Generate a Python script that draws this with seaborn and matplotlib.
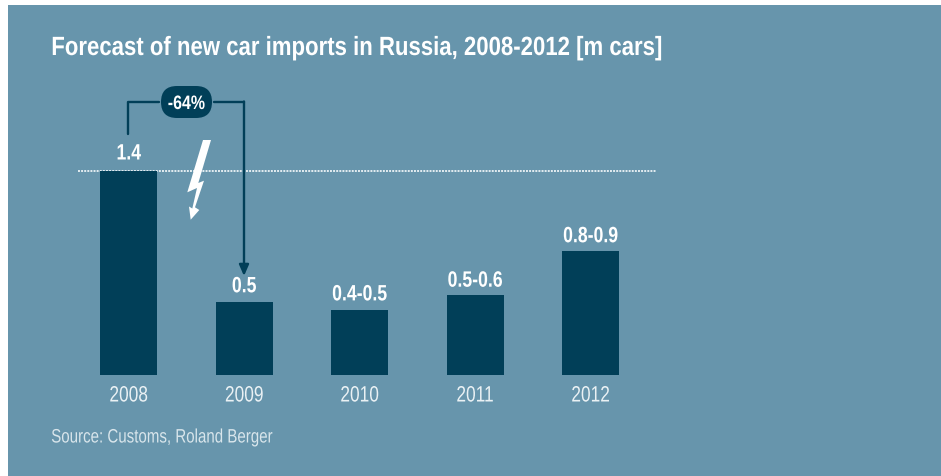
import matplotlib
matplotlib.use("Agg")
import matplotlib.pyplot as plt
from matplotlib.patches import FancyBboxPatch, Polygon, Rectangle
from matplotlib.patheffects import AbstractPathEffect
from matplotlib.transforms import Affine2D
import pandas as pd
import seaborn as sns

years = ["2008", "2009", "2010", "2011", "2012"]
imports_m = [1.4, 0.5, 0.45, 0.55, 0.85]
value_labels = ["1.4", "0.5", "0.4-0.5", "0.5-0.6", "0.8-0.9"]
label_gaps_pt = [8.6, 7.2, 6.6, 6.0, 6.6]

BG = "#6795AC"
DARK = "#013F58"
W, H = 941, 477


class Condensed(AbstractPathEffect):
    """Draws a text narrower, as no condensed face is installed."""

    def __init__(self, factor, anchor="center"):
        super().__init__()
        self.factor = factor
        self.anchor = anchor

    def draw_path(self, renderer, gc, tpath, affine, rgbFace=None):
        box = tpath.get_extents()
        x0 = box.x0 if self.anchor == "left" else (box.x0 + box.x1) / 2
        squeeze = Affine2D().translate(-x0, 0).scale(self.factor, 1).translate(x0, 0)
        renderer.draw_path(gc, tpath, squeeze + affine, rgbFace)


sns.set_theme(style="white")
plt.rcParams["font.family"] = ["Liberation Sans", "DejaVu Sans"]

fig = plt.figure(figsize=(W / 100, H / 100), dpi=100, facecolor="white")
ax = fig.add_axes([0, 0, 1, 1])

df = pd.DataFrame({"year": years, "imports": imports_m})
sns.barplot(data=df, x="year", y="imports", color=DARK, saturation=1, width=0.494,
            linewidth=0, edgecolor="none", ax=ax, zorder=3)

# Full-figure axes: one pixel is a fixed step in both data directions
step, unit = 115.5, 145.4
x_of = lambda px: (px - 128.7) / step
y_of = lambda py: (376 - py) / unit
ax.set_xlim(x_of(0), x_of(W))
ax.set_ylim(y_of(H), y_of(0))
for s in ax.spines.values():
    s.set_visible(False)
ax.set_facecolor("white")
ax.add_patch(Rectangle((x_of(8), y_of(H)), x_of(W) - x_of(8), y_of(6) - y_of(H),
                       facecolor=BG, edgecolor="none", zorder=0))

ax.set_xlabel("")
ax.set_ylabel("")
ax.set_yticks([])
ax.tick_params(axis="x", length=0, pad=0, colors="#EAF1F4", labelsize=16)
for lab in ax.get_xticklabels():
    lab.set_transform(ax.transData)
    lab.set_position((lab.get_position()[0], y_of(402.5)))
    lab.set_va("baseline")
    lab.set_path_effects([Condensed(0.78)])

for i, (v, lab, gap) in enumerate(zip(imports_m, value_labels, label_gaps_pt)):
    ax.annotate(lab, (i, v), xytext=(0, gap), textcoords="offset points", ha="center", va="baseline",
                color="white", fontsize=16, fontweight="bold", zorder=5,
                path_effects=[Condensed(0.795)])

ax.text(x_of(51), y_of(56), "Forecast of new car imports in Russia, 2008-2012 [m cars]",
        color="white", fontsize=19, fontweight="bold", va="baseline", ha="left",
        path_effects=[Condensed(0.84, "left")])
ax.text(x_of(51), y_of(443.5), "Source: Customs, Roland Berger",
        color="#D8E5EB", fontsize=14, va="baseline", ha="left",
        path_effects=[Condensed(0.776, "left")])

# Dotted reference level at the 2008 value
ax.plot([x_of(78), x_of(656)], [imports_m[0]] * 2, color="#E4EDF1", lw=1.4,
        ls=(0, (1, 0.6)), zorder=2)

# Bracket from 2008 to 2009
ax.plot([x_of(128.3), x_of(128.3), x_of(159)], [y_of(135), y_of(102.5), y_of(102.5)],
        color=DARK, lw=1.7, zorder=4, solid_joinstyle="round")
ax.plot([x_of(214), x_of(244)], [y_of(102.5)] * 2, color=DARK, lw=1.7, zorder=4)
ax.annotate("", xy=(x_of(244), y_of(277)), xytext=(x_of(244), y_of(102.5)),
            arrowprops=dict(arrowstyle="-|>,head_length=0.55,head_width=0.24", color=DARK, lw=1.7,
                            shrinkA=0, shrinkB=0), zorder=4)
ax.add_patch(FancyBboxPatch((x_of(161), y_of(119)), 51 / step, 32 / unit,
                            boxstyle=f"round,pad=0,rounding_size={16 / step}",
                            mutation_aspect=step / unit,
                            facecolor=DARK, edgecolor="none", zorder=4))
ax.text(x_of(186.5), y_of(110), "-64%", color="white", fontsize=14, fontweight="bold",
        ha="center", va="baseline", zorder=6, path_effects=[Condensed(0.82)])

# Lightning bolt
bolt_px = [(203, 141), (211, 141), (198.3, 184), (204, 181.7), (195, 208.3), (199.3, 211),
           (190.7, 220.7), (189, 207.5), (192.3, 209.5), (197, 189), (187.3, 193.3)]
ax.add_patch(Polygon([(x_of(a), y_of(b)) for a, b in bolt_px], closed=True, facecolor="white",
                     edgecolor="none", zorder=5))

fig.savefig("out.png", dpi=100, facecolor="white")
